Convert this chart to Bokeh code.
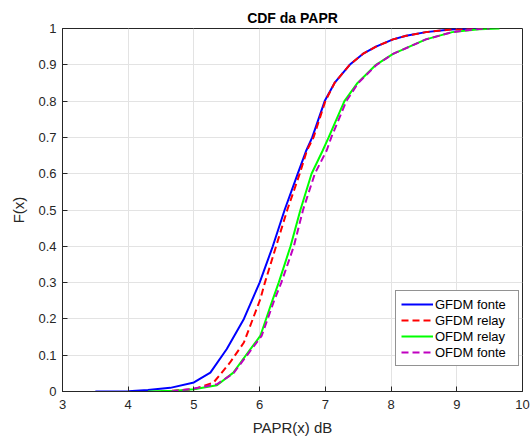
from bokeh.plotting import figure
from bokeh.models import Range1d, FixedTicker, Legend, LegendItem
from bokeh.embed import file_html
from bokeh.resources import INLINE

# ---- data ----
x_gfdm_fonte = [3.5, 4.0, 4.3, 4.64, 5.0, 5.25, 5.5, 5.76, 6.0, 6.2, 6.38, 6.58, 6.71, 6.80,
                6.99, 7.14, 7.37, 7.57, 7.77, 8.03, 8.23, 8.53, 8.9, 9.33]
F_gfdm_fonte = [0.0, 0.001, 0.004, 0.01, 0.025, 0.052, 0.117, 0.2, 0.3, 0.4, 0.5, 0.6, 0.664, 0.7,
                0.8, 0.85, 0.9, 0.93, 0.95, 0.97, 0.98, 0.99, 0.997, 1.0]

x_gfdm_relay = [4.5, 5.0, 5.3, 5.55, 5.76, 6.01, 6.08, 6.25, 6.42, 6.61, 6.72, 6.82, 7.0, 7.14,
                7.37, 7.57, 7.77, 8.03, 8.23, 8.53, 8.9, 9.38]
F_gfdm_relay = [0.0, 0.006, 0.025, 0.08, 0.135, 0.254, 0.3, 0.4, 0.5, 0.6, 0.664, 0.7, 0.8, 0.85,
                0.9, 0.93, 0.95, 0.97, 0.98, 0.99, 0.997, 1.0]

x_ofdm_relay = [4.3, 4.7, 5.0, 5.35, 5.6, 5.86, 6.01, 6.2, 6.29, 6.47, 6.62, 6.79, 6.96, 7.05,
                7.29, 7.49, 7.77, 8.03, 8.28, 8.53, 8.93, 9.34, 9.65]
F_ofdm_relay = [0.0, 0.002, 0.006, 0.017, 0.052, 0.117, 0.153, 0.254, 0.3, 0.4, 0.5, 0.6, 0.664, 0.7,
                0.8, 0.85, 0.9, 0.93, 0.95, 0.97, 0.99, 0.998, 1.0]

x_ofdm_fonte = [4.66, 5.0, 5.35, 5.6, 5.88, 6.03, 6.22, 6.33, 6.52, 6.66, 6.84, 7.02, 7.09, 7.32,
                7.5, 7.78, 8.03, 8.28, 8.53, 8.93, 9.3, 9.5]
F_ofdm_fonte = [0.0, 0.008, 0.02, 0.05, 0.117, 0.153, 0.25, 0.3, 0.4, 0.5, 0.6, 0.664, 0.7, 0.8,
                0.85, 0.9, 0.93, 0.95, 0.97, 0.99, 0.998, 1.0]

series_labels = ["GFDM fonte", "GFDM relay", "OFDM relay", "OFDM fonte"]
x_ticks = [3, 4, 5, 6, 7, 8, 9, 10]
y_ticks = [0, 0.1, 0.2, 0.3, 0.4, 0.5, 0.6, 0.7, 0.8, 0.9, 1]
y_tick_labels = ["0", "0.1", "0.2", "0.3", "0.4", "0.5", "0.6", "0.7", "0.8", "0.9", "1"]

FONT = "Liberation Sans"
AX = "#262626"

p = figure(width=532, height=438, x_range=Range1d(3, 10), y_range=Range1d(0, 1),
           output_backend="svg", toolbar_location=None, title="CDF da PAPR",
           min_border_left=62, min_border_right=10, min_border_top=28, min_border_bottom=45)

p.background_fill_color = "white"
p.border_fill_color = "white"
p.outline_line_color = AX
p.outline_line_width = 1

p.title.align = "center"
p.title.vertical_align = "middle"
p.title.text_font = FONT
p.title.text_font_size = "14px"
p.title.text_font_style = "bold"
p.title.text_color = "#000000"
p.title.standoff = 4

for ax, ticks in ((p.xaxis[0], x_ticks), (p.yaxis[0], y_ticks)):
    ax.ticker = FixedTicker(ticks=ticks)
    ax.major_tick_in = 5
    ax.major_tick_out = 0
    ax.minor_tick_line_color = None
    ax.axis_line_color = AX
    ax.major_tick_line_color = AX
    ax.major_label_text_font = FONT
    ax.major_label_text_font_size = "13px"
    ax.major_label_text_color = AX
    ax.axis_label_text_font = FONT
    ax.axis_label_text_font_size = "15px"
    ax.axis_label_text_font_style = "normal"
    ax.axis_label_text_color = AX

p.yaxis[0].major_label_overrides = {t: l for t, l in zip(y_ticks, y_tick_labels)}
p.xaxis[0].axis_label = "PAPR(x) dB"
p.yaxis[0].axis_label = "F(x)"
p.xaxis[0].major_label_standoff = 8
p.xaxis[0].axis_label_standoff = 7
p.yaxis[0].major_label_standoff = 6
p.yaxis[0].axis_label_standoff = 8

p.xgrid.grid_line_color = "#e3e3e3"
p.ygrid.grid_line_color = "#e3e3e3"
p.xgrid.ticker = FixedTicker(ticks=x_ticks)
p.ygrid.ticker = FixedTicker(ticks=y_ticks)

r1 = p.line(x_gfdm_fonte, F_gfdm_fonte, line_color="#0000ff", line_width=2)
r2 = p.line(x_gfdm_relay, F_gfdm_relay, line_color="#ff0000", line_width=2, line_dash="7 4")
r3 = p.line(x_ofdm_relay, F_ofdm_relay, line_color="#00ff00", line_width=2)
r4 = p.line(x_ofdm_fonte, F_ofdm_fonte, line_color="#c000c0", line_width=2, line_dash="7 4")

legend = Legend(items=[LegendItem(label=l, renderers=[r]) for l, r in
                       zip(series_labels, [r1, r2, r3, r4])],
                location=(333, 25), margin=0, padding=5, spacing=0,
                label_text_font=FONT, label_text_font_size="13px", label_text_color="#000000",
                label_height=16, glyph_height=16, glyph_width=32, label_standoff=2, label_width=78,
                border_line_color=AX, border_line_width=1, background_fill_alpha=1)
p.add_layout(legend)

open("out.html", "w").write(file_html(p, INLINE))
